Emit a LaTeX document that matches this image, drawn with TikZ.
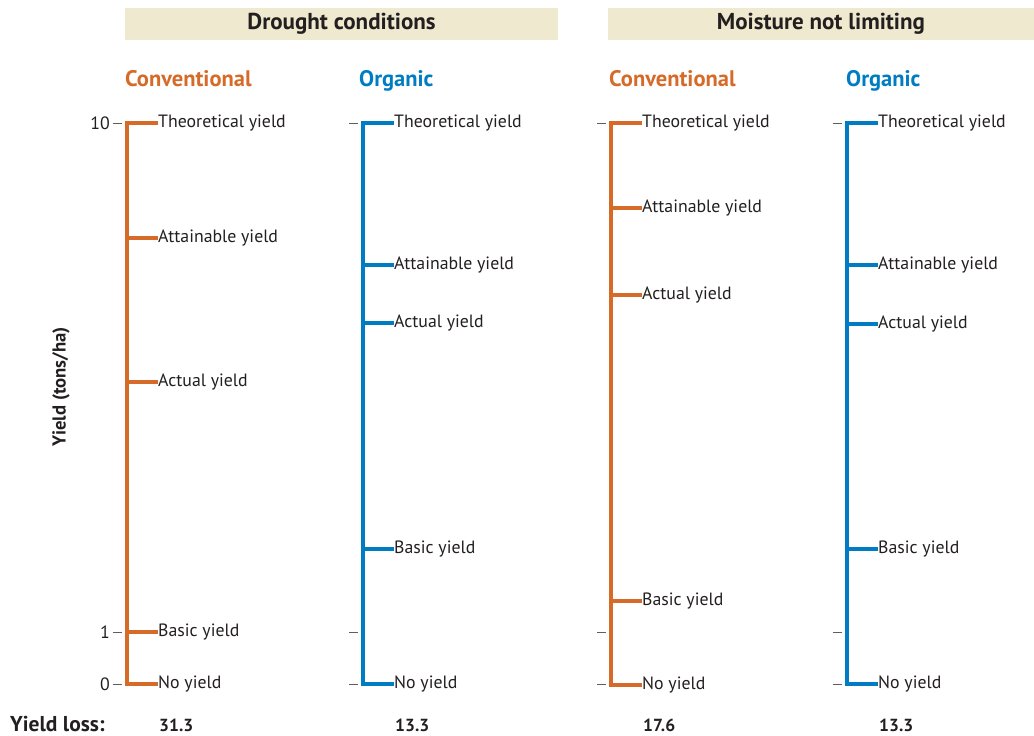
\documentclass[tikz,border=0pt]{standalone}
\usepackage{fontspec}
\setmainfont{PT Sans}
\usepackage{xcolor}
\usetikzlibrary{positioning}
\definecolor{convorange}{RGB}{214,106,40}
\definecolor{orgblue}{RGB}{0,124,194}
\definecolor{headbeige}{RGB}{239,233,207}
\definecolor{tickgrey}{RGB}{95,95,95}
\definecolor{inkgrey}{RGB}{35,31,32}

\begin{document}
\begin{tikzpicture}[x=1pt, y=-1pt, font=\fontsize{17.8}{20}\selectfont, text=inkgrey,
  lbl/.style={anchor=west, inner sep=0pt},
  conv/.style={convorange, line width=3.8pt, line join=miter},
  org/.style={orgblue, line width=3.8pt, line join=miter},
  tickmark/.style={tickgrey, line width=1pt},
  headbox/.style={fill=headbeige, minimum height=32pt, inner sep=0pt, font=\bfseries\fontsize{23}{25}\selectfont},
  coltitle/.style={anchor=base west, inner sep=0pt, font=\bfseries\fontsize{22.5}{25}\selectfont},
  lossval/.style={anchor=base west, inner sep=0pt, font=\bfseries\fontsize{17.5}{20}\selectfont}]
\useasboundingbox (0,0) rectangle (1034,736);

% headings
\node[headbox, minimum width=433pt] (drought) at (341.5,24) {Drought conditions};
\node[headbox, minimum width=426pt] (moist) at (821,24) {Moisture not limiting};
\node[coltitle, convorange] (dc-title) at (125,86) {Conventional};
\node[coltitle, orgblue] (do-title) at (359,86) {Organic};
\node[coltitle, convorange] (mc-title) at (609,86) {Conventional};
\node[coltitle, orgblue] (mo-title) at (846,86) {Organic};

% axis
\node[rotate=90, font=\bfseries\fontsize{18.7}{21}\selectfont] (ylabel) at (61,387) {Yield (tons/ha)};
\node[anchor=east, inner sep=0pt] (t10) at (110,123) {10};
\node[anchor=east, inner sep=0pt] (t1) at (110,632) {1};
\node[anchor=east, inner sep=0pt] (t0) at (110,684) {0};
\foreach \bx in {127,363,611,847}
  \foreach \ty in {123,632,684}
    \draw[tickmark] (\bx-14,\ty) -- (\bx-5,\ty);

% drought, conventional
\coordinate (dc-top) at (127,123);
\coordinate (dc-bot) at (127,684);
\node[lbl] (dc-theo) at (158,123) {Theoretical yield};
\node[lbl] (dc-att) at (158,238) {Attainable yield};
\node[lbl] (dc-act) at (158,382) {Actual yield};
\node[lbl] (dc-bas) at (158,632) {Basic yield};
\node[lbl] (dc-no) at (158,684) {No yield};
\draw[conv] (dc-theo.west) -- (dc-top) -- (dc-bot) -- (dc-no.west);
\draw[conv] (dc-att.west) -- (dc-att.west -| dc-top);
\draw[conv] (dc-act.west) -- (dc-act.west -| dc-top);
\draw[conv] (dc-bas.west) -- (dc-bas.west -| dc-top);

% drought, organic
\coordinate (do-top) at (363,123);
\coordinate (do-bot) at (363,684);
\node[lbl] (do-theo) at (394,123) {Theoretical yield};
\node[lbl] (do-att) at (394,265) {Attainable yield};
\node[lbl] (do-act) at (394,323) {Actual yield};
\node[lbl] (do-bas) at (394,549) {Basic yield};
\node[lbl] (do-no) at (394,684) {No yield};
\draw[org] (do-theo.west) -- (do-top) -- (do-bot) -- (do-no.west);
\draw[org] (do-att.west) -- (do-att.west -| do-top);
\draw[org] (do-act.west) -- (do-act.west -| do-top);
\draw[org] (do-bas.west) -- (do-bas.west -| do-top);

% moisture not limiting, conventional
\coordinate (mc-top) at (611,123);
\coordinate (mc-bot) at (611,685);
\node[lbl] (mc-theo) at (642,123) {Theoretical yield};
\node[lbl] (mc-att) at (642,208) {Attainable yield};
\node[lbl] (mc-act) at (642,295) {Actual yield};
\node[lbl] (mc-bas) at (642,601) {Basic yield};
\node[lbl] (mc-no) at (642,685) {No yield};
\draw[conv] (mc-theo.west) -- (mc-top) -- (mc-bot) -- (mc-no.west);
\draw[conv] (mc-att.west) -- (mc-att.west -| mc-top);
\draw[conv] (mc-act.west) -- (mc-act.west -| mc-top);
\draw[conv] (mc-bas.west) -- (mc-bas.west -| mc-top);

% moisture not limiting, organic
\coordinate (mo-top) at (847,123);
\coordinate (mo-bot) at (847,684);
\node[lbl] (mo-theo) at (878,123) {Theoretical yield};
\node[lbl] (mo-att) at (878,265) {Attainable yield};
\node[lbl] (mo-act) at (878,324) {Actual yield};
\node[lbl] (mo-bas) at (878,549) {Basic yield};
\node[lbl] (mo-no) at (878,684) {No yield};
\draw[org] (mo-theo.west) -- (mo-top) -- (mo-bot) -- (mo-no.west);
\draw[org] (mo-att.west) -- (mo-att.west -| mo-top);
\draw[org] (mo-act.west) -- (mo-act.west -| mo-top);
\draw[org] (mo-bas.west) -- (mo-bas.west -| mo-top);

% yield loss
\node[lossval, font=\bfseries\fontsize{21.5}{23}\selectfont] (loss) at (10,731) {Yield loss:};
\node[lossval] (dc-loss) at (159,731) {31.3};
\node[lossval] (do-loss) at (395,731) {13.3};
\node[lossval] (mc-loss) at (643,731) {17.6};
\node[lossval] (mo-loss) at (879,731) {13.3};
\end{tikzpicture}
\end{document}
